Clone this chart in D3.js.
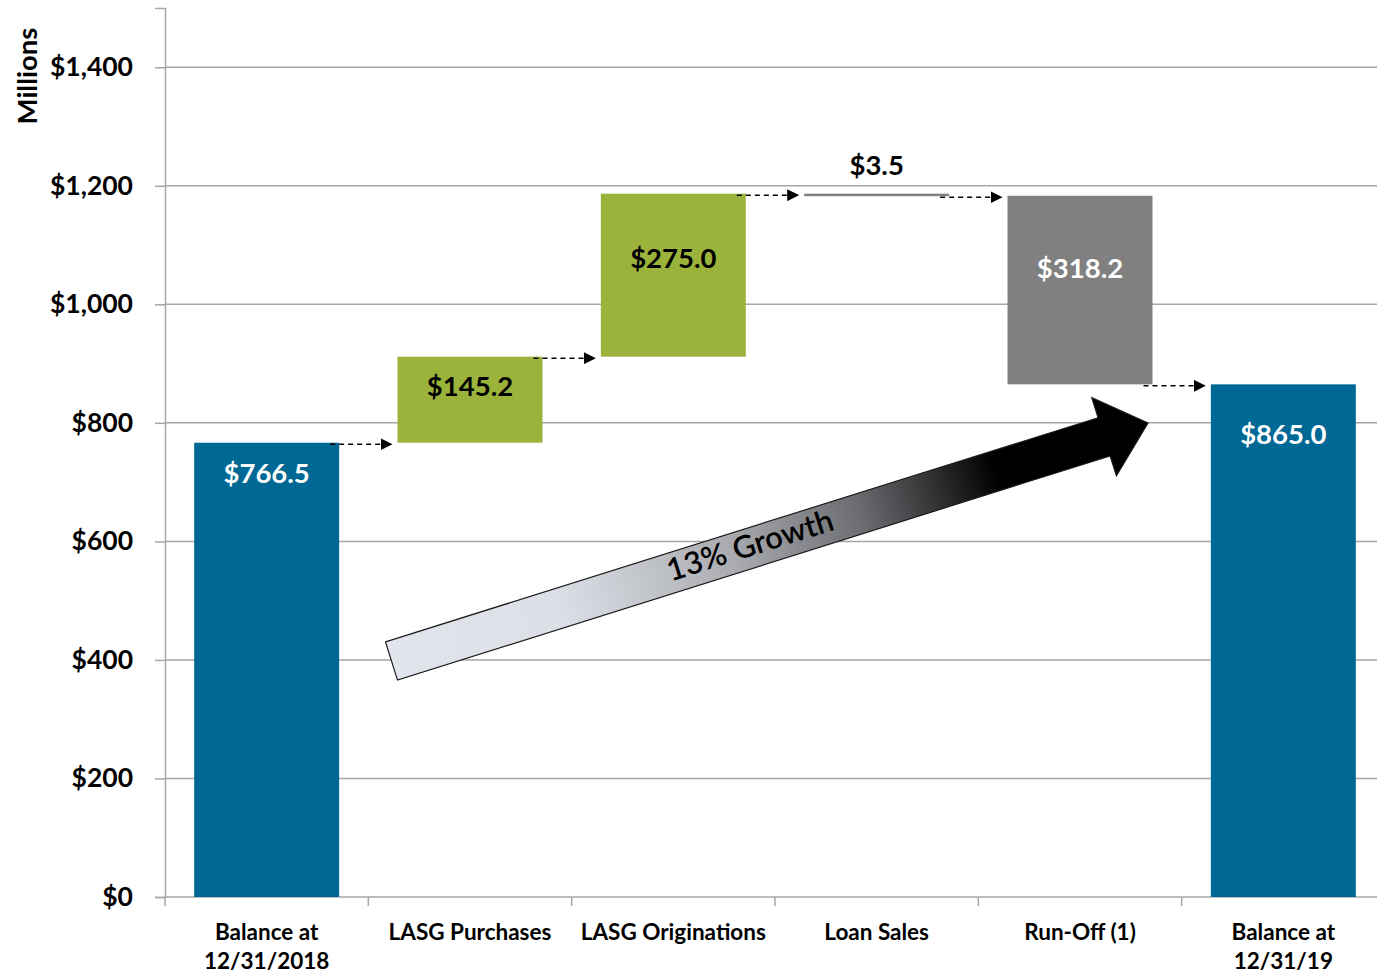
<!DOCTYPE html>
<html>
<head>
<meta charset="utf-8">
<script src="https://cdn.jsdelivr.net/npm/d3@7"></script>
<style>
  html, body { margin: 0; padding: 0; background: #fff; }
  svg { display: block; font-family: "Lato", "Open Sans", sans-serif; font-weight: bold; }
</style>
</head>
<body>
<svg id="chart" width="1377" height="976"></svg>
<script>
// Loan portfolio walk, 12/31/2018 -> 12/31/19 ($ millions)
const categories = ["Balance at\n12/31/2018", "LASG Purchases", "LASG Originations", "Loan Sales", "Run-Off (1)", "Balance at\n12/31/19"];
const changes = [766.5, 145.2, 275.0, -3.5, -318.2, 865.0];
const kinds = ["total", "increase", "increase", "decrease", "decrease", "total"];
const valueLabels = ["$766.5", "$145.2", "$275.0", "$3.5", "$318.2", "$865.0"];
const yTicks = [0, 200, 400, 600, 800, 1000, 1200, 1400];
const growthLabel = "13% Growth";

(function draw() {
const svg = d3.select("#chart");
const W = 1377;
const plotLeft = 165, plotRight = 1385, plotTop = 8, plotBottom = 897;

// running totals -> bar extents
let run = 0;
const bars = changes.map((v, i) => {
  let lo, hi;
  if (kinds[i] === "total") { lo = 0; hi = v; run = v; }
  else { const start = run; run = run + v; lo = Math.min(start, run); hi = Math.max(start, run); }
  return { i, cat: categories[i], lo, hi, end: run, kind: kinds[i], label: valueLabels[i] };
});

const x = d3.scaleBand().domain(categories).range([plotLeft, plotRight]).paddingInner(0.287).paddingOuter(0.1435);
const y = d3.scaleLinear().domain([0, 1500]).range([plotBottom, plotTop]);
const step = x.step();

const colors = { total: "#006894", increase: "#9bb33b", decrease: "#808080" };

// gridlines
svg.append("g").selectAll("line").data(yTicks.slice(1)).join("line")
  .attr("x1", plotLeft).attr("x2", W).attr("y1", d => y(d)).attr("y2", d => y(d))
  .attr("stroke", "#a6a6a6").attr("stroke-width", 1.5);

// y axis
const yAxis = svg.append("g").attr("transform", `translate(${plotLeft},0)`)
  .call(d3.axisLeft(y).tickValues(yTicks).tickSize(10).tickPadding(22)
    .tickFormat(d => "$" + d3.format(",")(d)));
yAxis.select(".domain").attr("stroke", "#a6a6a6").attr("stroke-width", 1.5);
yAxis.selectAll(".tick line").attr("stroke", "#a6a6a6").attr("stroke-width", 1.5);
yAxis.selectAll(".tick text").attr("fill", "#000").attr("font-size", 26.5)
  .attr("font-family", "Lato, sans-serif").attr("font-weight", "bold");

svg.append("text").attr("transform", `translate(37,76) rotate(-90)`)
  .attr("text-anchor", "middle").attr("font-size", 27.5).text("Millions");

// x axis
svg.append("line").attr("x1", plotLeft).attr("x2", W).attr("y1", plotBottom).attr("y2", plotBottom)
  .attr("stroke", "#a6a6a6").attr("stroke-width", 1.5);
svg.append("g").selectAll("line").data(categories).join("line")
  .attr("x1", d => x(d) - step * 0.1435).attr("x2", d => x(d) - step * 0.1435)
  .attr("y1", plotBottom).attr("y2", plotBottom + 9)
  .attr("stroke", "#a6a6a6").attr("stroke-width", 1.5);

const catText = svg.append("g").selectAll("text").data(categories).join("text")
  .attr("x", d => x(d) + x.bandwidth() / 2).attr("y", 940)
  .attr("text-anchor", "middle").attr("font-size", 22.5);
catText.each(function(d) {
  const t = d3.select(this);
  d.split("\n").forEach((line, k) => {
    t.append("tspan").attr("x", x(d) + x.bandwidth() / 2).attr("dy", k === 0 ? 0 : 29).text(line);
  });
});

// bars
svg.append("g").selectAll("rect").data(bars).join("rect")
  .attr("x", d => x(d.cat)).attr("width", x.bandwidth())
  .attr("y", d => y(d.hi)).attr("height", d => Math.max(2.5, y(d.lo) - y(d.hi)))
  .attr("fill", d => colors[d.kind]);

// connectors between consecutive bars
const defs = svg.append("defs");
defs.append("marker").attr("id", "tip").attr("viewBox", "0 0 10 10")
  .attr("refX", 10).attr("refY", 5).attr("markerWidth", 12).attr("markerHeight", 12)
  .attr("markerUnits", "userSpaceOnUse").attr("orient", "auto")
  .append("path").attr("d", "M0,0 L10,5 L0,10 Z").attr("fill", "#000");

const links = bars.slice(0, -1).map((b, k) => ({ from: b, to: bars[k + 1], v: b.end }));
svg.append("g").selectAll("line").data(links).join("line")
  .attr("x1", d => x(d.from.cat) + x.bandwidth() - 9)
  .attr("x2", d => x(d.to.cat) - 5)
  .attr("y1", d => y(d.v) + 1.5).attr("y2", d => y(d.v) + 1.5)
  .attr("stroke", "#000").attr("stroke-width", 1.5).attr("stroke-dasharray", "5,4")
  .attr("marker-end", "url(#tip)");

// value labels
const labelDy = [30, 29, 64, -29, 72, 50];
svg.append("g").selectAll("text").data(bars).join("text")
  .attr("x", d => x(d.cat) + x.bandwidth() / 2)
  .attr("y", d => y(d.hi) + labelDy[d.i] + 10)
  .attr("text-anchor", "middle").attr("font-size", 27.5)
  .attr("fill", d => (d.kind === "increase" || d.i === 3) ? "#000" : "#fff")
  .text(d => d.label);

// growth arrow from the opening balance toward the closing balance
const grad = defs.append("linearGradient").attr("id", "growthGrad")
  .attr("x1", "0%").attr("x2", "100%").attr("y1", "0%").attr("y2", "0%");
[[0, "#e2e5ec"], [0.22, "#dcdfe6"], [0.45, "#a9abb0"], [0.62, "#6b6c70"], [0.8, "#000"], [1, "#000"]]
  .forEach(([o, c]) => grad.append("stop").attr("offset", o).attr("stop-color", c));

const tail = [391.5, 661], tipPt = [1148, 423];
const ang = Math.atan2(tipPt[1] - tail[1], tipPt[0] - tail[0]) * 180 / Math.PI;
const len = Math.hypot(tipPt[0] - tail[0], tipPt[1] - tail[1]);
const sw = 20, hw = 41, hl = 46;
const g = svg.append("g").attr("transform", `translate(${tail[0]},${tail[1]}) rotate(${ang})`);
g.append("path")
  .attr("d", `M0,${-sw} L${len - hl},${-sw} L${len - hl},${-hw} L${len},0 L${len - hl},${hw} L${len - hl},${sw} L0,${sw} Z`)
  .attr("fill", "url(#growthGrad)").attr("stroke", "#1a1a1a").attr("stroke-width", 1.2);
g.append("text").attr("x", len * 0.475).attr("y", -3).attr("dy", "0.35em")
  .attr("text-anchor", "middle").attr("font-size", 31).attr("font-weight", 600)
  .attr("fill", "#000").text(growthLabel);
})();
</script>
</body>
</html>
